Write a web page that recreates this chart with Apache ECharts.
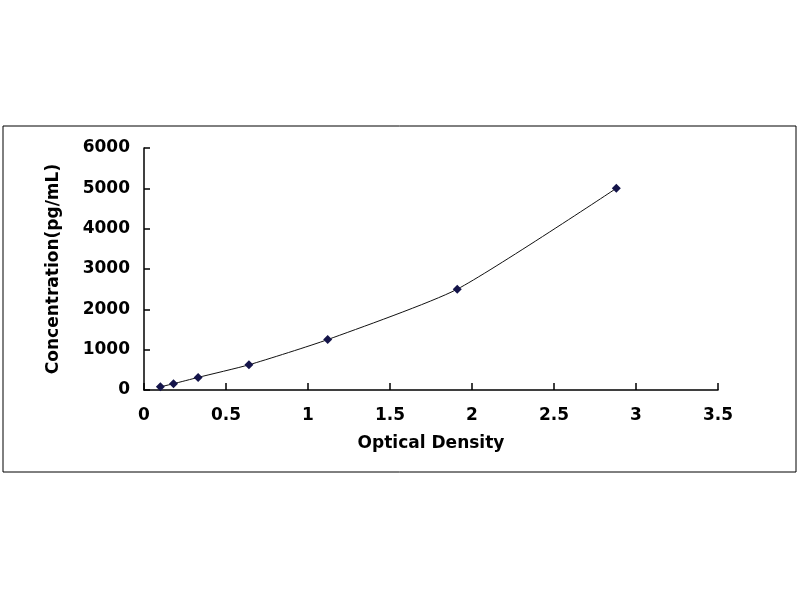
<!DOCTYPE html>
<html lang="en">
<head>
  <meta charset="UTF-8">
  <title>Standard Curve</title>
  <style>
    html, body { margin: 0; padding: 0; background: #fff; }
    #chart { width: 800px; height: 600px; }
  </style>
</head>
<body>
<div id="chart"></div>
<script src="https://cdn.jsdelivr.net/npm/echarts@6/dist/echarts.min.js"></script>
<script>
  // standard curve points
  const od = [0.10, 0.18, 0.33, 0.64, 1.12, 1.91, 2.88];
  const conc = [78, 156, 312, 625, 1250, 2500, 5000];

  const xTicks = [0, 0.5, 1, 1.5, 2, 2.5, 3, 3.5];
  const yTicks = [0, 1000, 2000, 3000, 4000, 5000, 6000];

  const font = 'DejaVu Sans';
  const points = od.map((x, i) => [x, conc[i]]);

  const chart = echarts.init(document.getElementById('chart'));
  chart.setOption({
    animation: false,
    backgroundColor: '#fff',
    graphic: [{
      type: 'rect',
      shape: { x: 3, y: 126, width: 793, height: 346 },
      style: { fill: 'none', stroke: '#000', lineWidth: 1 },
      silent: true
    }],
    grid: { left: 144, right: 82, top: 148, bottom: 210 },
    xAxis: {
      type: 'value',
      min: xTicks[0],
      max: xTicks[xTicks.length - 1],
      interval: 0.5,
      name: 'Optical Density',
      nameLocation: 'middle',
      nameGap: 45,
      nameTextStyle: { fontFamily: font, fontWeight: 'bold', fontSize: 17, color: '#000' },
      axisLine: { lineStyle: { color: '#000', width: 1.5 } },
      axisTick: { inside: true, length: 7, lineStyle: { color: '#000', width: 1.5 } },
      axisLabel: { margin: 17, fontFamily: font, fontWeight: 'bold', fontSize: 17, color: '#000' },
      splitLine: { show: false }
    },
    yAxis: {
      type: 'value',
      min: yTicks[0],
      max: yTicks[yTicks.length - 1],
      interval: 1000,
      name: 'Concentration(pg/mL)',
      nameLocation: 'middle',
      nameGap: 82,
      nameTextStyle: { fontFamily: font, fontWeight: 'bold', fontSize: 17, color: '#000' },
      axisLine: { show: true, lineStyle: { color: '#000', width: 1.5 } },
      axisTick: { show: true, inside: true, length: 6, lineStyle: { color: '#000', width: 1.5 } },
      axisLabel: {
        margin: 14, fontFamily: font, fontWeight: 'bold', fontSize: 17, color: '#000',
        formatter: v => String(v)
      },
      splitLine: { show: false }
    },
    series: [{
      type: 'line',
      data: points,
      smooth: 0.2,
      symbol: 'diamond',
      symbolSize: 9,
      itemStyle: { color: '#14144a' },
      lineStyle: { color: '#111', width: 1 }
    }]
  });
</script>
</body>
</html>
